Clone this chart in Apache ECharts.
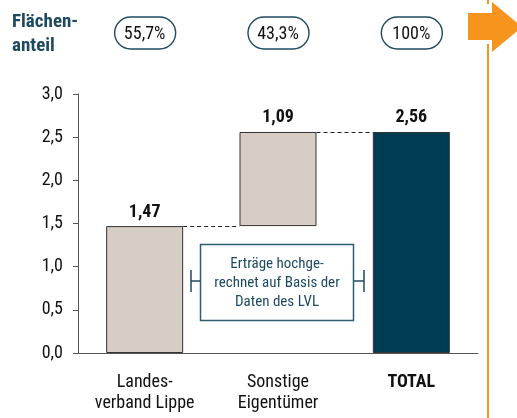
<!DOCTYPE html>
<html>
<head>
<meta charset="utf-8">
<script src="https://cdn.jsdelivr.net/npm/echarts@6/dist/echarts.min.js"></script>
<style>
  html, body { margin: 0; padding: 0; background: #fff; }
  #chart { width: 517px; height: 418px; }
</style>
</head>
<body>
<div id="chart"></div>
<script>
// data
const categories = ['Landes-\nverband Lippe', 'Sonstige\nEigentümer', 'TOTAL'];
const baseValues = [0, 1.47, 0];
const barValues = [1.47, 1.09, 2.56];
const barLabels = ['1,47', '1,09', '2,56'];
const areaShares = ['55,7%', '43,3%', '100%'];
const connectorLevels = [1.47, 2.56];
const yTicks = [0, 0.5, 1.0, 1.5, 2.0, 2.5, 3.0];

(function () {
  const el = document.getElementById('chart');
  const chart = echarts.init(el);
  const FONT = "'Roboto Condensed', 'Liberation Sans', Arial, sans-serif";
  const BAR_W = 77;
  const TEAL = '#1d4a60';
  const ORANGE = '#f7941d';

  const fmt = v => Number(v).toFixed(1).replace('.', ',');

  chart.setOption({
    animation: false,
    textStyle: { fontFamily: FONT },
    grid: { left: 78, right: 39, top: 94, bottom: 65 },
    xAxis: {
      type: 'category',
      data: categories,
      axisLine: { lineStyle: { color: '#555', width: 1 } },
      axisTick: { show: false },
      axisLabel: {
        color: '#111',
        fontSize: 18,
        lineHeight: 21,
        margin: 19,
        formatter: (v, i) => i === categories.length - 1 ? '{b|' + v + '}' : v,
        rich: { b: { fontWeight: 'bold', fontSize: 18, color: '#111' } }
      }
    },
    yAxis: {
      type: 'value',
      min: yTicks[0],
      max: yTicks[yTicks.length - 1],
      interval: 0.5,
      splitLine: { show: false },
      axisLine: { show: true, lineStyle: { color: '#555', width: 1 } },
      axisTick: { show: true, length: 5, lineStyle: { color: '#555' } },
      axisLabel: { color: '#111', fontSize: 18, margin: 15, formatter: fmt }
    },
    graphic: [
      { type: 'line', shape: { x1: 488, y1: 0, x2: 488, y2: 4 }, style: { stroke: ORANGE, lineWidth: 2 } },
      { type: 'line', shape: { x1: 488, y1: 44, x2: 488, y2: 418 }, style: { stroke: ORANGE, lineWidth: 2 } },
      {
        type: 'polygon',
        shape: { points: [[468, 13], [492, 13], [492, 2], [522, 27], [492, 52], [492, 40], [468, 40]] },
        style: { fill: ORANGE }
      },
      {
        type: 'text', left: 12, top: 10,
        style: { text: 'Flächen-\nanteil', font: 'bold 19px ' + FONT, fill: TEAL, lineHeight: 24 }
      },
      // annotation box + bracket
      { type: 'rect', shape: { x: 200.5, y: 244.5, width: 153, height: 76 }, style: { fill: '#fff', stroke: '#2f5d70', lineWidth: 1.5 } },
      {
        type: 'text', x: 277, y: 283,
        style: {
          text: 'Erträge hochge-\nrechnet auf Basis der\nDaten des LVL',
          font: '15px ' + FONT, fill: TEAL, align: 'center', verticalAlign: 'middle', lineHeight: 19
        }
      },
      { type: 'line', shape: { x1: 191, y1: 270, x2: 191, y2: 292 }, style: { stroke: TEAL, lineWidth: 1.5 } },
      { type: 'line', shape: { x1: 191, y1: 281, x2: 200, y2: 281 }, style: { stroke: TEAL, lineWidth: 1.5 } },
      { type: 'line', shape: { x1: 364, y1: 270, x2: 364, y2: 292 }, style: { stroke: TEAL, lineWidth: 1.5 } },
      { type: 'line', shape: { x1: 354, y1: 281, x2: 364, y2: 281 }, style: { stroke: TEAL, lineWidth: 1.5 } }
    ],
    series: [
      {
        name: 'base',
        type: 'bar',
        stack: 'w',
        barWidth: BAR_W,
        silent: true,
        itemStyle: { color: 'transparent' },
        data: baseValues
      },
      {
        name: 'value',
        type: 'bar',
        stack: 'w',
        barWidth: BAR_W,
        data: barValues.map((v, i) => ({
          value: v,
          itemStyle: {
            color: i === barValues.length - 1 ? '#003d55' : '#d6cdc4',
            borderColor: '#333',
            borderWidth: 1
          }
        })),
        label: {
          show: true,
          position: 'top',
          distance: 5,
          color: '#111',
          fontWeight: 'bold',
          fontSize: 18,
          formatter: p => barLabels[p.dataIndex]
        }
      },
      {
        name: 'connectors',
        type: 'custom',
        z: 1,
        data: connectorLevels.map((y, i) => [i, y]),
        renderItem: (params, api) => {
          const i = api.value(0);
          const y = api.value(1);
          const a = api.coord([i, y]);
          const b = api.coord([i + 1, y]);
          const py = Math.round(a[1]) + 0.5;
          return {
            type: 'line',
            shape: { x1: a[0] + BAR_W / 2, y1: py, x2: b[0] - BAR_W / 2, y2: py },
            style: { stroke: '#222', lineWidth: 1, lineDash: [4, 3] }
          };
        }
      },
      {
        name: 'shares',
        type: 'custom',
        clip: false,
        data: areaShares.map((s, i) => [i, 0]),
        renderItem: (params, api) => {
          const i = api.value(0);
          const cx = api.coord([i, 0])[0];
          return {
            type: 'group',
            children: [
              {
                type: 'rect',
                shape: { x: cx - 30, y: 17, width: 61, height: 32, r: 16 },
                style: { fill: '#fff', stroke: TEAL, lineWidth: 1.4 }
              },
              {
                type: 'text',
                x: cx, y: 34,
                style: { text: areaShares[i], font: '18px ' + FONT, fill: '#111', align: 'center', verticalAlign: 'middle' }
              }
            ]
          };
        }
      }
    ]
  });

  window.addEventListener('resize', () => chart.resize());
})();
</script>
</body>
</html>
